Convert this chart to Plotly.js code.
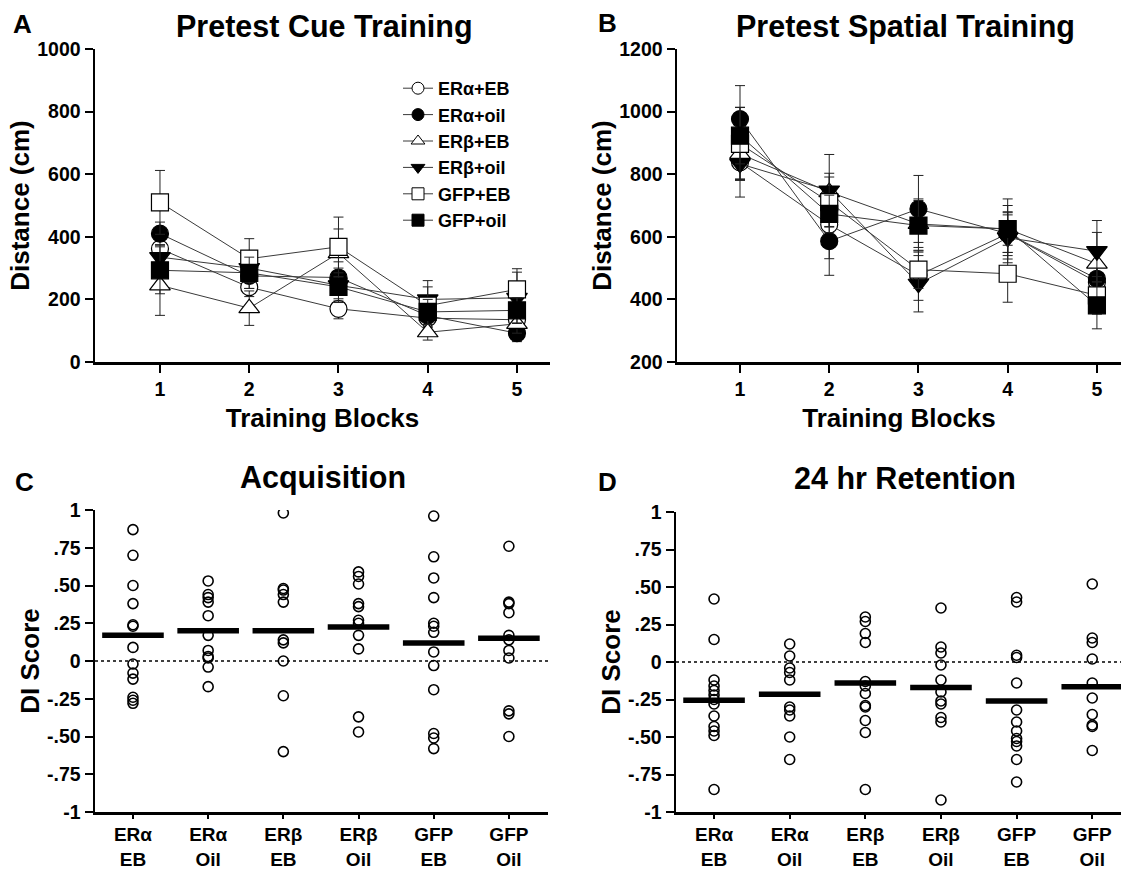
<!DOCTYPE html>
<html>
<head>
<meta charset="utf-8">
<script src="https://cdn.plot.ly/plotly-3.0.1.min.js"></script>
<style>html,body{margin:0;padding:0;background:#fff}#chart{width:1123px;height:870px}</style>
</head>
<body>
<div id="chart"></div>
<script>
// ---------- DATA ----------
var blocks = [1, 2, 3, 4, 5];
var groupNames = ['ERα+EB', 'ERα+oil', 'ERβ+EB', 'ERβ+oil', 'GFP+EB', 'GFP+oil'];

// Panel A: Pretest Cue Training (mean distance, cm)
var cueERaEB   = [362, 239, 170, 140, 135];
var cueERaOil  = [410, 275, 270, 148, 92];
var cueERbEB   = [245, 172, 348, 95, 122];
var cueERbOil  = [335, 300, 245, 200, 205];
var cueGFPEB   = [510, 330, 368, 180, 232];
var cueGFPOil  = [293, 285, 240, 160, 165];
// Panel A SEM
var cueERaEBsem  = [40, 30, 32, 30, 25];
var cueERaOilsem = [37, 40, 50, 35, 27];
var cueERbEBsem  = [96, 55, 77, 25, 30];
var cueERbOilsem = [40, 45, 55, 60, 82];
var cueGFPEBsem  = [102, 64, 95, 60, 66];
var cueGFPOilsem = [75, 50, 45, 40, 40];

// Panel B: Pretest Spatial Training (mean distance, cm)
var spaERaEB   = [838, 639, 477, 610, 455];
var spaERaOil  = [976, 586, 689, 610, 466];
var spaERbEB   = [865, 743, 641, 625, 514];
var spaERbOil  = [833, 748, 450, 597, 554];
var spaGFPEB   = [897, 711, 495, 482, 413];
var spaGFPOil  = [923, 673, 636, 625, 381];
// Panel B SEM
var spaERaEBsem  = [55, 109, 80, 60, 50];
var spaERaOilsem = [107, 109, 107, 70, 55];
var spaERbEBsem  = [80, 60, 75, 75, 100];
var spaERbOilsem = [106, 115, 90, 80, 98];
var spaGFPEBsem  = [117, 80, 60, 91, 60];
var spaGFPOilsem = [90, 60, 85, 96, 75];

// Panels C & D categories
var dotCategories = ['ERα EB', 'ERα Oil', 'ERβ EB', 'ERβ Oil', 'GFP EB', 'GFP Oil'];
var dotTickLabels = ['ERα<br>EB', 'ERα<br>Oil', 'ERβ<br>EB', 'ERβ<br>Oil', 'GFP<br>EB', 'GFP<br>Oil'];
var diTickVals = [-1, -0.75, -0.5, -0.25, 0, 0.25, 0.5, 0.75, 1];
var diTickText = ['-1', '-.75', '-.50', '-.25', '0', '.25', '.50', '.75', '1'];

// Panel C: Acquisition DI scores
var acqERaEB  = [0.87, 0.70, 0.50, 0.38, 0.24, 0.23, 0.09, -0.02, -0.08, -0.12, -0.24, -0.26, -0.28];
var acqERaOil = [0.53, 0.44, 0.42, 0.39, 0.30, 0.17, 0.07, 0.03, 0.02, -0.04, -0.17];
var acqERbEB  = [0.98, 0.48, 0.47, 0.44, 0.39, 0.14, 0.12, 0.00, -0.23, -0.60];
var acqERbOil = [0.59, 0.56, 0.51, 0.38, 0.36, 0.27, 0.25, 0.17, 0.08, -0.37, -0.47];
var acqGFPEB  = [0.96, 0.69, 0.55, 0.42, 0.25, 0.23, 0.19, 0.06, -0.03, -0.19, -0.48, -0.51, -0.58];
var acqGFPOil = [0.76, 0.39, 0.38, 0.32, 0.17, 0.14, 0.07, 0.02, -0.33, -0.35, -0.50];
var acqMeans  = [0.17, 0.20, 0.20, 0.225, 0.12, 0.15];

// Panel D: 24 hr Retention DI scores
var retERaEB  = [0.42, 0.15, -0.12, -0.16, -0.19, -0.22, -0.25, -0.28, -0.36, -0.43, -0.46, -0.49, -0.85];
var retERaOil = [0.12, 0.04, -0.04, -0.07, -0.12, -0.30, -0.32, -0.36, -0.50, -0.65];
var retERbEB  = [0.30, 0.27, 0.19, 0.13, -0.13, -0.16, -0.21, -0.29, -0.30, -0.39, -0.47, -0.85];
var retERbOil = [0.36, 0.10, 0.06, -0.02, -0.12, -0.20, -0.26, -0.28, -0.37, -0.40, -0.92];
var retGFPEB  = [0.43, 0.40, 0.045, 0.03, -0.14, -0.32, -0.40, -0.46, -0.51, -0.53, -0.56, -0.65, -0.80];
var retGFPOil = [0.52, 0.16, 0.13, 0.02, -0.14, -0.24, -0.35, -0.42, -0.43, -0.59];
var retMeans  = [-0.255, -0.215, -0.14, -0.17, -0.26, -0.165];

// ---------- STYLE ----------
var FONT = 'Liberation Sans, Arial, Helvetica, sans-serif';
var W = 1123, H = 870;
function px(x) { return x / W; }
function py(y) { return 1 - y / H; }

var markerStyles = [
  {symbol: 'circle', color: '#ffffff'},
  {symbol: 'circle', color: '#000000'},
  {symbol: 'triangle-up', color: '#ffffff'},
  {symbol: 'triangle-down', color: '#000000'},
  {symbol: 'square', color: '#ffffff'},
  {symbol: 'square', color: '#000000'}
];
var markerSizes = [17, 17, 18, 18, 17, 17];

var cueMeans = [cueERaEB, cueERaOil, cueERbEB, cueERbOil, cueGFPEB, cueGFPOil];
var cueSems  = [cueERaEBsem, cueERaOilsem, cueERbEBsem, cueERbOilsem, cueGFPEBsem, cueGFPOilsem];
var spaMeans = [spaERaEB, spaERaOil, spaERbEB, spaERbOil, spaGFPEB, spaGFPOil];
var spaSems  = [spaERaEBsem, spaERaOilsem, spaERbEBsem, spaERbOilsem, spaGFPEBsem, spaGFPOilsem];

var traces = [];
function lineTrace(i, ys, sems, xa, ya) {
  return {
    type: 'scatter', mode: 'lines+markers',
    x: blocks, y: ys, name: groupNames[i],
    xaxis: xa, yaxis: ya, showlegend: false,
    line: {color: '#3a3a3a', width: 1},
    marker: {symbol: markerStyles[i].symbol, color: markerStyles[i].color, size: markerSizes[i],
             line: {color: '#000', width: 1.2}},
    error_y: {type: 'data', array: sems, visible: true, color: '#222', thickness: 1, width: 5},
    hoverinfo: 'x+y+name'
  };
}
for (var i = 0; i < 6; i++) traces.push(lineTrace(i, cueMeans[i], cueSems[i], 'x', 'y'));
for (var j = 0; j < 6; j++) traces.push(lineTrace(j, spaMeans[j], spaSems[j], 'x2', 'y2'));
// legend entries (styled like the group traces, smaller symbols as in the key)
for (var g = 0; g < 6; g++) {
  traces.push({
    type: 'scatter', mode: 'lines+markers', x: [null], y: [null], name: groupNames[g],
    xaxis: 'x', yaxis: 'y', showlegend: true,
    line: {color: '#3a3a3a', width: 1},
    marker: {symbol: markerStyles[g].symbol, color: markerStyles[g].color, size: 12,
             line: {color: '#000', width: 1}}
  });
}

function dotTraces(groups, means, xa, ya) {
  for (var k = 0; k < groups.length; k++) {
    var xs = groups[k].map(function () { return dotCategories[k]; });
    traces.push({
      type: 'scatter', mode: 'markers', x: xs, y: groups[k], xaxis: xa, yaxis: ya,
      showlegend: false,
      marker: {symbol: 'circle-open', size: 10, color: '#000', line: {width: 1.6, color: '#000'}}
    });
  }
  traces.push({
    type: 'scatter', mode: 'markers', x: dotCategories, y: means, xaxis: xa, yaxis: ya,
    showlegend: false,
    marker: {symbol: 'line-ew', size: 44, color: '#000', line: {width: 5.5, color: '#000'}}
  });
}
dotTraces([acqERaEB, acqERaOil, acqERbEB, acqERbOil, acqGFPEB, acqGFPOil], acqMeans, 'x3', 'y3');
dotTraces([retERaEB, retERaOil, retERbEB, retERbOil, retGFPEB, retGFPOil], retMeans, 'x4', 'y4');

var tickFont = {family: FONT, size: 19.5, color: '#000', weight: 'bold'};
var catFont = {family: FONT, size: 19, color: '#000', weight: 'bold'};
var axTitleFont = {family: FONT, size: 26, color: '#000', weight: 'bold'};
function baseAxis(extra) {
  var a = {
    showline: true, linecolor: '#000', linewidth: 2.5, ticks: 'outside', ticklen: 8,
    tickwidth: 2, tickcolor: '#000', showgrid: false, zeroline: false, tickfont: tickFont,
    automargin: false, fixedrange: true
  };
  for (var k in extra) a[k] = extra[k];
  return a;
}

var layout = {
  width: W, height: H,
  margin: {l: 0, r: 0, t: 0, b: 0},
  paper_bgcolor: '#fff', plot_bgcolor: 'rgba(0,0,0,0)',
  font: {family: FONT, color: '#000'},
  showlegend: true,
  legend: {x: px(398), y: py(70), xanchor: 'left', yanchor: 'top',
           font: {family: FONT, size: 18, color: '#000', weight: 'bold'},
           bgcolor: 'rgba(0,0,0,0)', itemsizing: 'trace', tracegroupgap: 0},
  xaxis: baseAxis({domain: [px(95), px(550)], range: [0.272, 5.37], anchor: 'y',
                   tickvals: blocks, title: {text: 'Training Blocks', font: axTitleFont, standoff: 10}}),
  yaxis: baseAxis({domain: [py(362), py(49)], range: [0, 1000], anchor: 'x',
                   tickvals: [0, 200, 400, 600, 800, 1000],
                   title: {text: 'Distance (cm)', font: axTitleFont, standoff: 0}}),
  xaxis2: baseAxis({domain: [px(677), px(1121)], range: [0.294, 5.27], anchor: 'y2',
                    tickvals: blocks, title: {text: 'Training Blocks', font: axTitleFont, standoff: 10}}),
  yaxis2: baseAxis({domain: [py(362), py(49)], range: [200, 1200], anchor: 'x2',
                    tickvals: [200, 400, 600, 800, 1000, 1200],
                    title: {text: 'Distance (cm)', font: axTitleFont, standoff: 0}}),
  xaxis3: baseAxis({domain: [px(95), px(548)], range: [-0.505, 5.52], anchor: 'y3', type: 'category',
                    categoryorder: 'array', categoryarray: dotCategories,
                    tickvals: dotCategories, ticktext: dotTickLabels, ticklen: 4,
                    tickfont: catFont}),
  yaxis3: baseAxis({domain: [py(812), py(510)], range: [-1, 1], anchor: 'x3',
                    tickvals: diTickVals, ticktext: diTickText,
                    title: {text: 'DI Score', font: axTitleFont, standoff: 0}}),
  xaxis4: baseAxis({domain: [px(676), px(1121)], range: [-0.503, 5.38], anchor: 'y4', type: 'category',
                    categoryorder: 'array', categoryarray: dotCategories,
                    tickvals: dotCategories, ticktext: dotTickLabels, ticklen: 4,
                    tickfont: catFont}),
  yaxis4: baseAxis({domain: [py(812), py(512)], range: [-1, 1], anchor: 'x4',
                    tickvals: diTickVals, ticktext: diTickText,
                    title: {text: 'DI Score', font: axTitleFont, standoff: 0}}),
  shapes: [
    {type: 'line', xref: 'x3 domain', yref: 'y3', x0: 0, x1: 1, y0: 0, y1: 0,
     line: {color: '#000', width: 1.5, dash: 'dot'}, layer: 'below'},
    {type: 'line', xref: 'x4 domain', yref: 'y4', x0: 0, x1: 1, y0: 0, y1: 0,
     line: {color: '#000', width: 1.5, dash: 'dot'}, layer: 'below'}
  ],
  annotations: []
};

function addText(text, x, y, size) {
  layout.annotations.push({text: text, xref: 'paper', yref: 'paper', x: px(x), y: py(y),
    xanchor: 'center', yanchor: 'middle', showarrow: false,
    font: {family: FONT, size: size, color: '#000', weight: 'bold'}});
}
addText('Pretest Cue Training', 324, 27, 30.5);
addText('Pretest Spatial Training', 905, 27, 30.5);
addText('Acquisition', 323, 478, 30.5);
addText('24 hr Retention', 905, 478, 30.5);
addText('A', 22, 24, 26);
addText('B', 607, 23, 26);
addText('C', 24, 482, 26);
addText('D', 607, 482, 26);

Plotly.newPlot('chart', traces, layout, {displayModeBar: false, staticPlot: true});
</script>
</body>
</html>
